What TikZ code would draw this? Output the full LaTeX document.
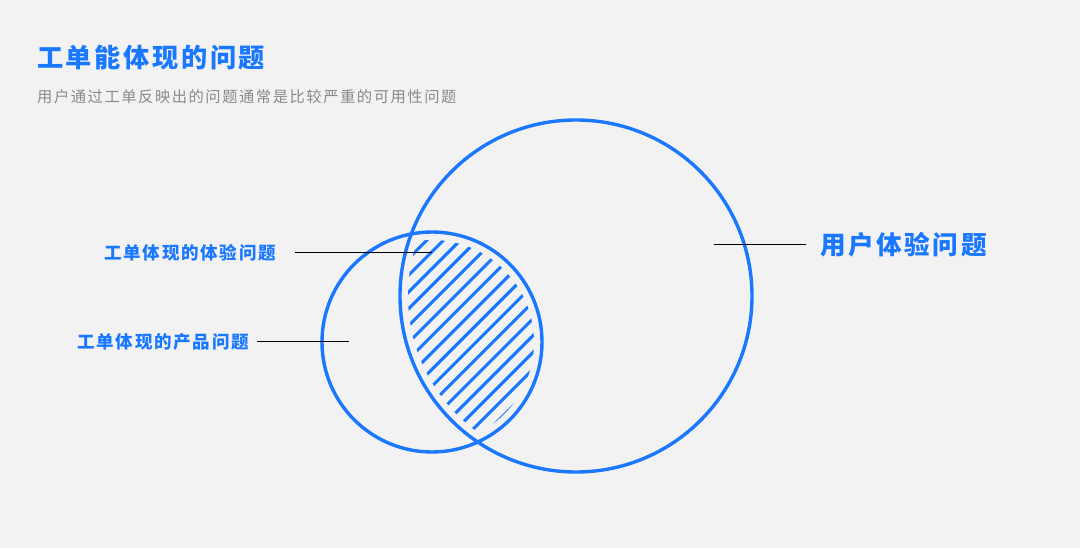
\documentclass[tikz,border=0pt]{standalone}
\usepackage{fontspec}
\newfontfamily\cjk[LetterSpace=10]{Noto Sans CJK SC}
\usetikzlibrary{positioning}
\definecolor{brand}{HTML}{1A78FF}
\definecolor{paper}{HTML}{F2F2F2}
\definecolor{note}{HTML}{8A8A8A}
\tikzset{
	heading/.style={anchor=west, inner sep=0pt, text=brand, font=\cjk\bfseries\fontsize{26.2}{30}\selectfont},
	subheading/.style={anchor=west, inner sep=0pt, text=note, font=\cjk\fontsize{15.3}{18}\selectfont},
	% labels at the left side of the circles
	tag/.style={anchor=east, inner sep=0pt, text=brand, font=\cjk\bfseries\fontsize{17.5}{20}\selectfont},
	bigtag/.style={anchor=west, inner sep=0pt, text=brand, font=\cjk\bfseries\fontsize{25.6}{28}\selectfont},
	ring/.style={draw=brand, line width=3.4pt},
	hatch/.style={draw=brand, line width=3.1pt, line cap=round},
	pointer/.style={draw=black, line width=1pt},
}
\begin{document}
\begin{tikzpicture}[x=1pt, y=-1pt]
	\fill[paper] (0,0) rectangle (1080,548);
	\useasboundingbox (0,0) rectangle (1080,548);
	
	\node (title) [heading] at (37,58) {工单能体现的问题};
	\node (sub) [subheading] at (37,97) {用户通过工单反映出的问题通常是比较严重的可用性问题};
	
	% hatching of the overlap
	\begin{scope}
		\clip (576,296) circle[radius=168pt];
		\clip (432,342) circle[radius=102pt];
		\foreach \k in {0,...,15} {
			\pgfmathsetmacro\s{667+16.8*\k}
			\draw[hatch] (\s-460,460) -- (\s-200,200);
		}
	\end{scope}
	
	\draw[ring] (576,296) circle[radius=176pt];
	\draw[ring] (432,342) circle[radius=110pt];
	
	\node (exp) [tag] at (276,253) {工单体现的体验问题};
	\node (prod) [tag] at (249,342) {工单体现的产品问题};
	\node (user) [bigtag] at (820,245) {用户体验问题};
	
	\coordinate (expend) at (432,253);
	\coordinate (prodend) at (349,342);
	\coordinate (userend) at (714,245);
	
	\begin{scope}[pointer]
		\draw ([xshift=19pt]exp.east) -- (expend);
		\draw ([xshift=8pt]prod.east) -- (prodend);
		\draw ([xshift=-14pt]user.west) -- (userend);
	\end{scope}
	
\end{tikzpicture}
\end{document}
